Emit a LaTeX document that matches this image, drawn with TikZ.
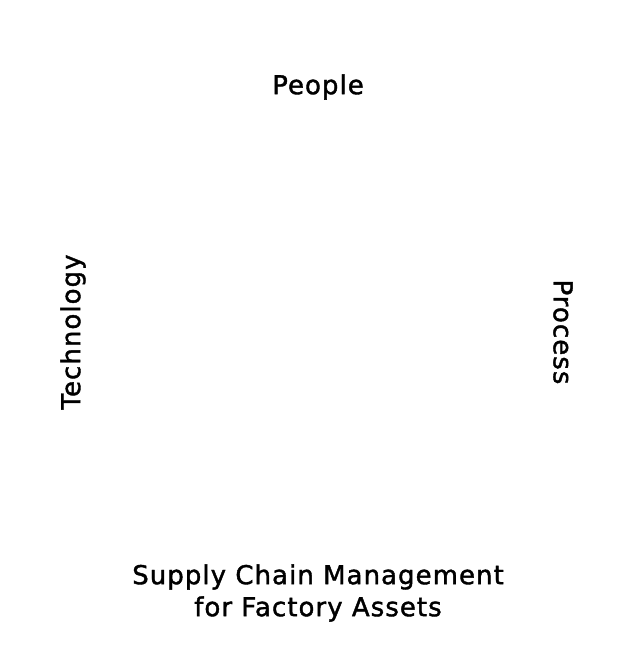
\documentclass[tikz,border=0pt]{standalone}
\usepackage{fontspec}
\setmainfont{DejaVu Sans}[LetterSpace=4,FakeBold=1.5]
\usepackage{tikz}

\begin{document}
\begin{tikzpicture}[
  x=1pt, y=1pt,
  font=\fontsize{26}{32}\selectfont,
  lbl/.style={inner sep=0pt, align=center},
]
\useasboundingbox (0,0) rectangle (634,664);
\node[lbl] (people) at (318,577) {People};
\node[lbl, rotate=90] (tech) at (73,332) {Technology};
\node[lbl, rotate=-90] (proc) at (563,332) {Process};
\node[lbl] (scm) at (318,71) {Supply Chain Management\\for Factory Assets};
\end{tikzpicture}
\end{document}
